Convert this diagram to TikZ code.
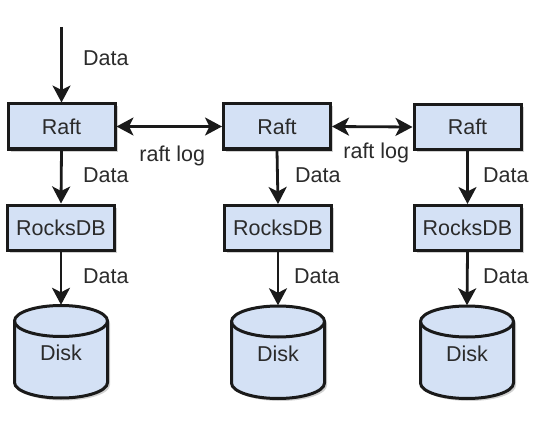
\documentclass[tikz,border=0pt]{standalone}
\usepackage{fontspec}
\setmainfont{Liberation Sans}
\usetikzlibrary{arrows.meta,shadows,calc}
\definecolor{boxfill}{HTML}{D4E1F5}
\definecolor{ink}{HTML}{1A1A1A}
\definecolor{txt}{HTML}{2B2B2B}
\tikzset{
  box/.style={draw=ink, line width=3pt, fill=boxfill, minimum width=107pt, minimum height=45pt, inner sep=0pt,
     font=\fontsize{21.5pt}{24pt}\selectfont, text=txt,
     drop shadow={shadow xshift=2.5pt, shadow yshift=-2.5pt, opacity=0.18, fill=black}},
  diskspace/.style={minimum width=95pt, minimum height=93pt, inner sep=0pt},
  lbl/.style={font=\fontsize{21.5pt}{24pt}\selectfont, text=txt, inner sep=0pt},
  flow/.style={draw=ink, line width=2.8pt, -{Stealth[length=17pt, width=18pt, inset=4.5pt]}},
  twoway/.style={draw=ink, line width=2.8pt, {Stealth[length=17pt, width=18pt, inset=4.5pt]}-{Stealth[length=17pt, width=18pt, inset=4.5pt]}},
}
\begin{document}
\begin{tikzpicture}[x=1pt, y=-1pt]
\useasboundingbox[fill=white] (0,0) rectangle (554,425);

% boxes
\node[box] (raft1) at (61.5,126.5) {Raft};
\node[box] (raft2) at (277,126.5) {Raft};
\node[box] (raft3) at (467.5,127) {Raft};
\node[box] (rocks1) at (61,227.5) {RocksDB};
\node[box] (rocks2) at (278,228) {RocksDB};
\node[box] (rocks3) at (467.5,228) {RocksDB};

% disks
\node[diskspace] (disk1) at (61,351.5) {};
\node[diskspace] (disk2) at (278,352) {};
\node[diskspace] (disk3) at (467,352) {};
\foreach \d in {disk1,disk2,disk3}{
  \begin{scope}[shift={(\d.center)}]
    \fill[black, opacity=0.18, shift={(2.5,2.5)}] (-46.5,-30.5) -- (-46.5,31) arc[start angle=180, end angle=0, x radius=46.5, y radius=15.5] -- (46.5,-30.5) arc[start angle=0, end angle=-180, x radius=46.5, y radius=15.5] -- cycle;
    \filldraw[fill=boxfill, draw=ink, line width=3pt] (-46.5,-30.5) -- (-46.5,31) arc[start angle=180, end angle=0, x radius=46.5, y radius=15.5] -- (46.5,-30.5) arc[start angle=0, end angle=-180, x radius=46.5, y radius=15.5] -- cycle;
    \draw[draw=ink, line width=3pt] (-46.5,-30.5) arc[start angle=180, end angle=0, x radius=46.5, y radius=15.5];
    \node[lbl] at (0,1.5) {Disk};
  \end{scope}
}

% connectors
\coordinate (in1) at (61.5,27);
\draw[flow] (in1) -- (raft1.north);
\foreach \i in {1,2,3}{
  \draw[flow] (raft\i.south) -- (rocks\i.north);
  \draw[flow] (rocks\i.south) -- (disk\i.north);
}
\draw[twoway] (raft1.east) -- (raft2.west) node[lbl, midway, yshift=-29.5pt, xshift=3pt] (rl1) {raft log};
\draw[twoway] (raft2.east) -- (raft3.west) node[lbl, midway, yshift=-26.5pt, xshift=4pt] (rl2) {raft log};

% data labels
\node[lbl, anchor=west] (d0) at (83,58) {Data};
\node[lbl, anchor=west] (d1a) at (83,175) {Data};
\node[lbl, anchor=west] (d1b) at (83,276) {Data};
\node[lbl, anchor=west] (d2a) at (295,175) {Data};
\node[lbl, anchor=west] (d2b) at (294,276) {Data};
\node[lbl, anchor=west] (d3a) at (483,175) {Data};
\node[lbl, anchor=west] (d3b) at (483,276) {Data};
\end{tikzpicture}
\end{document}
